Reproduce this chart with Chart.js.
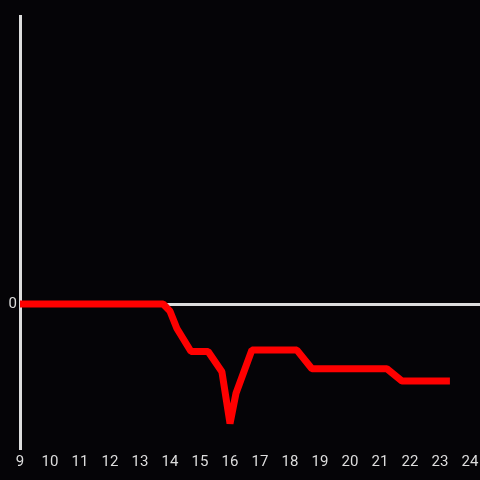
<!DOCTYPE html>
<html>
<head>
<meta charset="utf-8">
<script src="https://cdn.jsdelivr.net/npm/chart.js@4/dist/chart.umd.min.js"></script>
<style>
  html, body { margin: 0; padding: 0; background: #050407; }
</style>
</head>
<body>
<canvas id="line-chart" width="480" height="480"></canvas>
<script>
// hour of day vs value
let hours = [9, 13.77, 14, 14.23, 14.7, 15.27, 15.73, 16, 16.2, 16.73, 18.23, 18.73, 21.23, 21.73, 23.33];
let values = [0, 0, -0.05, -0.17, -0.33, -0.33, -0.47, -0.83, -0.62, -0.32, -0.32, -0.45, -0.45, -0.535, -0.535];
let xTicks = [9, 10, 11, 12, 13, 14, 15, 16, 17, 18, 19, 20, 21, 22, 23, 24];

let points = hours.map((h, i) => { return {x: h, y: values[i]} });

new Chart("line-chart", {
  type: "line",
  data: {
    datasets: [{
      data: points,
      borderColor: "#ff0000",
      borderWidth: 7,
      borderJoinStyle: "bevel",
      pointRadius: 0,
      tension: 0,
      fill: false
    }]
  },
  options: {
    responsive: false,
    animation: false,
    maintainAspectRatio: false,
    layout: { padding: { top: 16, right: 0, left: 0, bottom: 0 } },
    plugins: {
      legend: { display: false },
      tooltip: { enabled: false }
    },
    scales: {
      x: {
        type: "linear",
        min: 9,
        max: 24.333,
        afterBuildTicks: (axis) => { axis.ticks = xTicks.map(v => ({ value: v })) },
        grid: { display: false },
        border: { display: false },
        ticks: {
          color: "#dddddd",
          font: { family: "Roboto", size: 15 },
          maxRotation: 0,
          autoSkip: false,
          padding: -3
        },
        afterFit: (axis) => {
          axis.height = 32;
          axis.paddingLeft = 0;
          axis.paddingRight = 0;
        }
      },
      y: {
        min: -1,
        max: 2,
        ticks: {
          stepSize: 1,
          color: "#dddddd",
          font: { family: "Roboto", size: 15 },
          padding: 3,
          callback: (v) => v === 0 ? "0" : ""
        },
        grid: {
          drawTicks: false,
          color: (ctx) => ctx.tick && ctx.tick.value === 0 ? "#dddddd" : "rgba(0,0,0,0)",
          lineWidth: 3
        },
        border: { color: "#dddddd", width: 3 },
        afterFit: (axis) => { axis.width = 20 }
      }
    }
  }
});
</script>
</body>
</html>
